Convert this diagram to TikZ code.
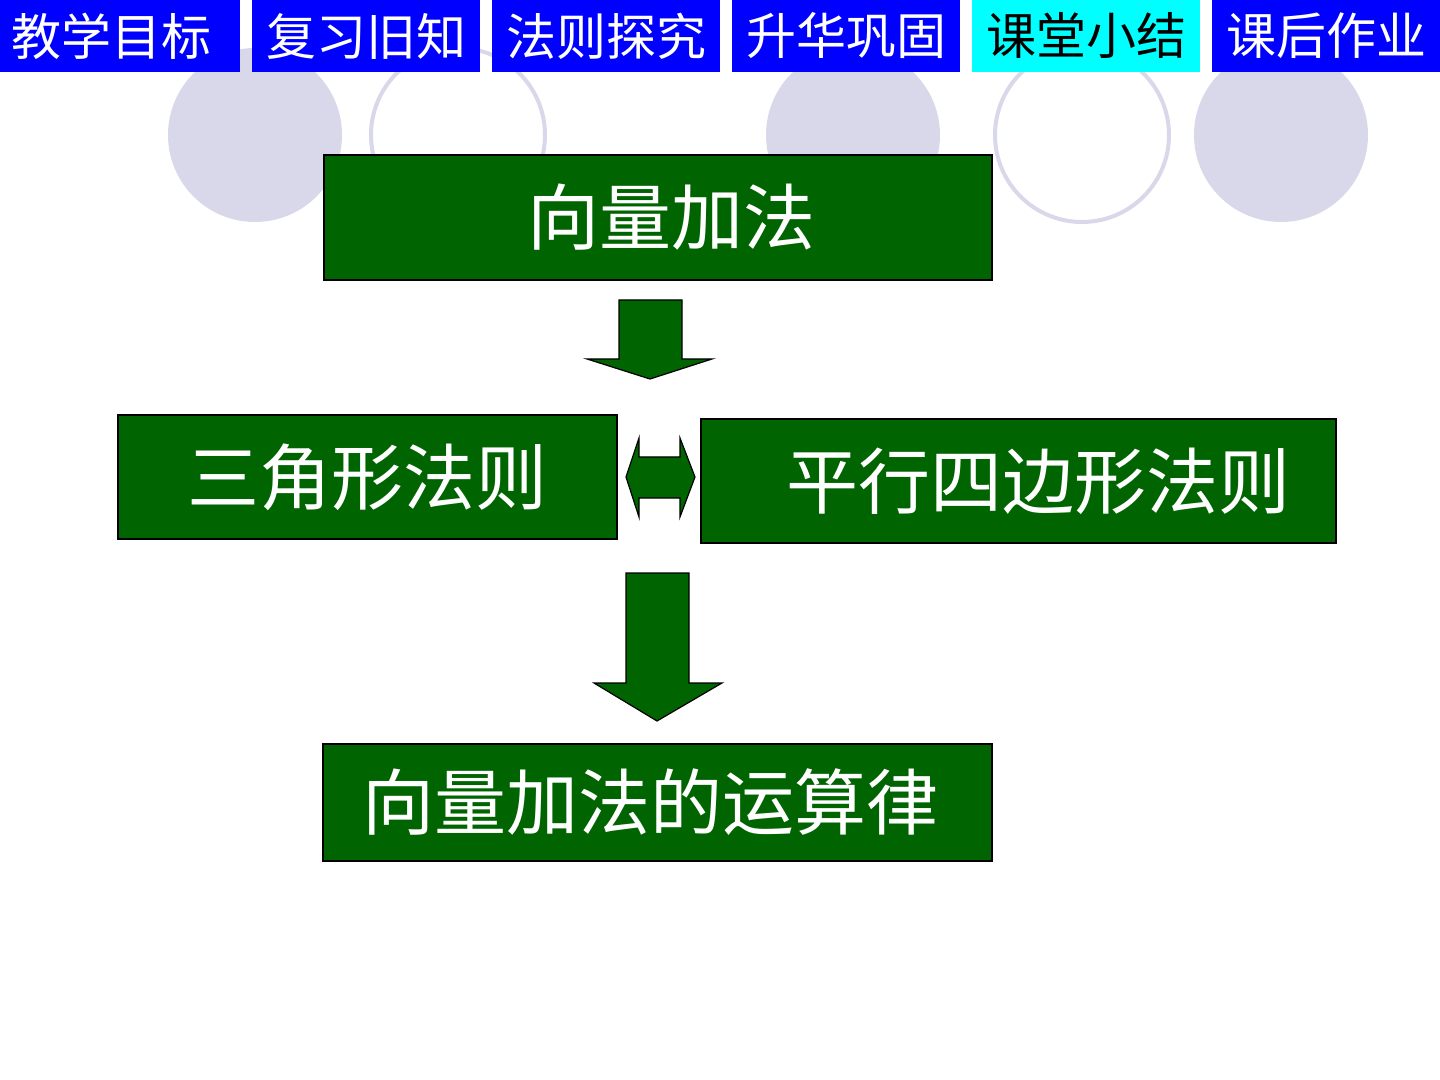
\documentclass[tikz,border=0pt]{standalone}
\usepackage{fontspec}
\newfontfamily\cjk{Noto Sans CJK SC}
\definecolor{tabblue}{RGB}{0,0,255}
\definecolor{tabcyan}{RGB}{0,255,255}
\definecolor{dkgreen}{RGB}{0,100,0}
\definecolor{lav}{RGB}{216,216,234}
\begin{document}
\begin{tikzpicture}[x=0.5pt,y=-0.5pt,
  tab/.style={draw=none, fill=tabblue, minimum width=114pt, minimum height=36pt, inner sep=0pt, text=white, font=\cjk\fontsize{25}{28}\selectfont},
  box/.style={draw=black, line width=0.75pt, fill=dkgreen, text=white, inner sep=0pt, font=\cjk\fontsize{36}{40}\selectfont},
  blockarrow/.style={draw=black, line width=0.6pt, fill=dkgreen, line join=miter},
  fillcirc/.style={fill=lav},
  ringcirc/.style={draw=lav, line width=2pt, fill=white}]
\useasboundingbox (0,0) rectangle (1440,1080);
% background circles
\fill[fillcirc] (255,135) circle (87);
\draw[ringcirc] (458,135) circle (87);
\fill[fillcirc] (853,135) circle (87);
\draw[ringcirc] (1082,135) circle (87);
\fill[fillcirc] (1281,135) circle (87);
% top tabs
\node[tab, minimum width=120pt] (t1) at (120,36) {教学目标\hspace*{9pt}};
\node[tab] (t2) at (366,36) {复习旧知};
\node[tab] (t3) at (606,36) {法则探究};
\node[tab] (t4) at (846,36) {升华巩固};
\node[tab, fill=tabcyan, text=black] (t5) at (1086,36) {课堂小结};
\node[tab] (t6) at (1326,36) {课后作业};
% boxes
\node[box, minimum width=334pt, minimum height=62.5pt] (a) at (658,217.5) {\raisebox{2pt}{\hspace*{13pt}向量加法}};
\node[box, minimum width=249.5pt, minimum height=62pt] (b) at (367.5,477) {\raisebox{-1.5pt}{三角形法则}};
\node[box, minimum width=317.5pt, minimum height=62pt] (c) at (1018.5,481) {\hspace*{20pt}平行四边形法则};
\node[box, minimum width=334.5pt, minimum height=58.5pt] (d) at (657.5,802.5) {向量加法的运算律\hspace*{7.5pt}};
% block arrows
\draw[blockarrow] (619,300) -- (682,300) -- (682,359) -- (712,359) -- (650,379) -- (587,359) -- (619,359) -- cycle;
\draw[blockarrow] (626,477) -- (639,438) -- (639,457) -- (680,457) -- (680,438) -- (695,477) -- (680,517) -- (680,498) -- (639,498) -- (639,517) -- cycle;
\draw[blockarrow] (626,573) -- (689,573) -- (689,683) -- (722,683) -- (657,721) -- (594,683) -- (626,683) -- cycle;
\end{tikzpicture}
\end{document}
